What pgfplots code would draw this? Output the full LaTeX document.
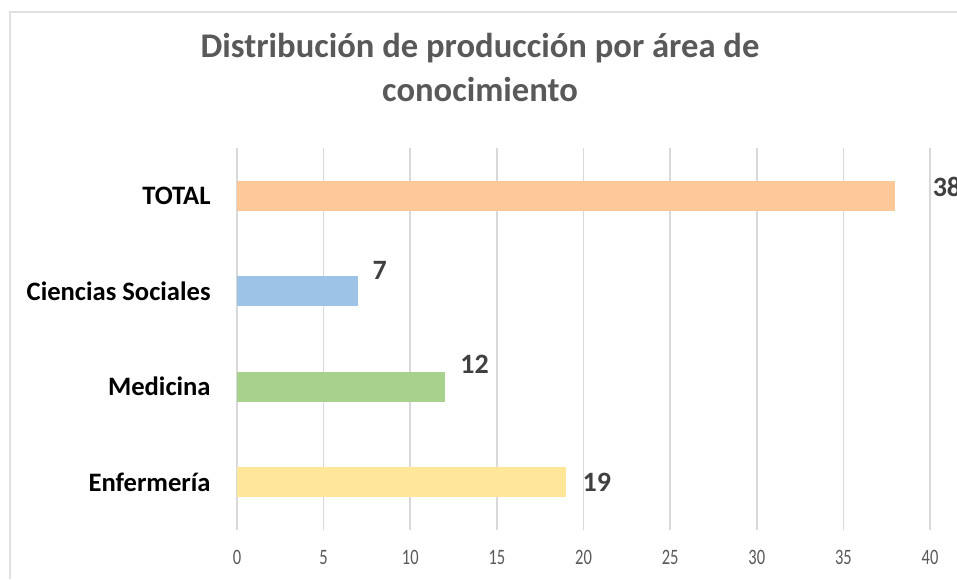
\documentclass[border=0pt]{standalone}
\usepackage{pgfplots}
\pgfplotsset{compat=1.18}
\usepackage{fontspec}
\setmainfont{Carlito}
\newfontfamily\tickfont[FakeStretch=0.75]{Carlito}
\definecolor{cTot}{HTML}{FFC899}
\definecolor{cCS}{HTML}{9DC3E6}
\definecolor{cMed}{HTML}{A9D18E}
\definecolor{cEnf}{HTML}{FFE699}
\definecolor{gridc}{HTML}{D9D9D9}
\definecolor{borderc}{HTML}{E0E0E0}
\definecolor{titc}{HTML}{595959}
\definecolor{labc}{HTML}{404040}
\begin{document}
\begin{tikzpicture}
\begin{axis}[
 at={(118.5pt,24.5pt)}, anchor=south west,
 scale only axis, width=346.5pt, height=191pt,
 xmin=0, xmax=40, ymin=-0.5, ymax=3.5,
 xtick={0,5,...,40},
 ytick={0,1,2,3},
 yticklabels={Enfermería,Medicina,Ciencias Sociales,TOTAL},
 xmajorgrids, major grid style={gridc, line width=0.8pt},
 axis line style={draw=none},
 tick style={draw=none},
 /pgf/number format/assume math mode=true,
 xticklabel style={font=\tickfont\fontsize{11}{13}\selectfont, text=titc, inner sep=0pt, anchor=north, yshift=-10pt},
 yticklabel style={font=\bfseries\fontsize{13.3}{15}\selectfont, text=black, inner sep=0pt, anchor=east, xshift=-13pt},
 bar width=15pt,
 point meta=x,
 nodes near coords,
 every node near coord/.append style={font=\bfseries\fontsize{14}{16}\selectfont, text=labc, inner sep=0pt, anchor=west},
 clip=false,
]
\addplot[xbar, bar shift=0pt, fill=cEnf, draw=none, point meta=x, every node near coord/.append style={xshift=8pt, yshift=0pt}] coordinates {(19,0)};
\addplot[xbar, bar shift=0pt, fill=cMed, draw=none, point meta=x, every node near coord/.append style={xshift=7.5pt, yshift=11pt}] coordinates {(12,1)};
\addplot[xbar, bar shift=0pt, fill=cCS, draw=none, point meta=x, every node near coord/.append style={xshift=7pt, yshift=10.5pt}] coordinates {(7,2)};
\addplot[xbar, bar shift=0pt, fill=cTot, draw=none, point meta=x, every node near coord/.append style={xshift=18.5pt, yshift=4.5pt}] coordinates {(38,3)};
\end{axis}
\draw[borderc, line width=1pt] (5pt,0) -- (5pt,283.5pt) -- (478.5pt,283.5pt);
\node[font=\bfseries\fontsize{17.3}{22}\selectfont, text=titc, align=center] at (240pt,255.75pt) {Distribución de producción por área de\\conocimiento};
\pgfresetboundingbox
\path (0,0) rectangle (478.5pt,289.5pt);
\end{tikzpicture}
\end{document}
